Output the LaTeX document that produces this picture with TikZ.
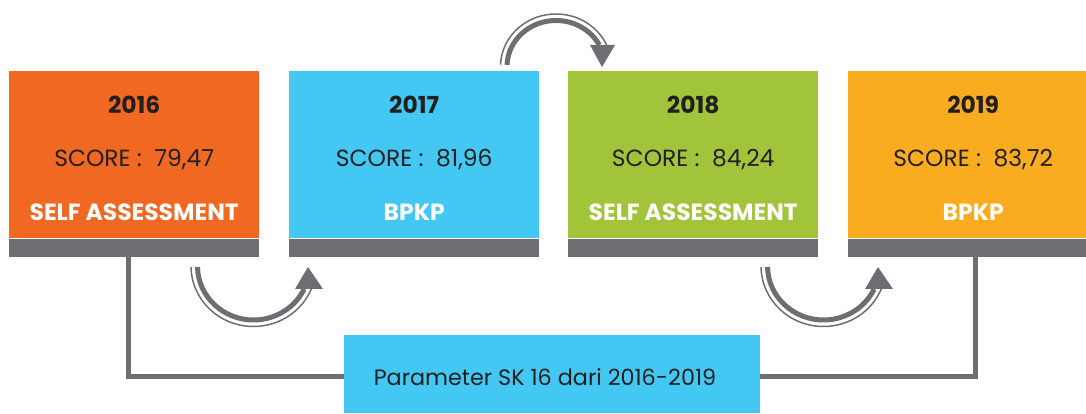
\documentclass[tikz,border=0pt]{standalone}
\usepackage{fontspec}
\setmainfont{Poppins}
\definecolor{corange}{HTML}{F16822}
\definecolor{cblue}{HTML}{43C8F4}
\definecolor{cgreen}{HTML}{A1C43A}
\definecolor{cyellow}{HTML}{F9AC20}
\definecolor{cgray}{HTML}{6D6E71}
\definecolor{cdark}{HTML}{231F20}
\tikzset{
  yearbox/.style={inner sep=0pt, minimum width=250pt, minimum height=167pt, anchor=north west},
  bandbox/.style={fill=cgray, inner sep=0pt, minimum width=250pt, minimum height=18pt, anchor=north west},
  yeartxt/.style={font=\bfseries\fontsize{23.4}{28}\selectfont, text=cdark, anchor=base, inner sep=0pt},
  scoretxt/.style={font=\fontsize{23.4}{28}\selectfont, text=cdark, anchor=base, inner sep=0pt},
  paramtxt/.style={font=\fontsize{22.3}{27}\selectfont, text=cdark, anchor=base, inner sep=0pt},
  labeltxt/.style={font=\bfseries\fontsize{23.4}{28}\selectfont, text=white, anchor=base, inner sep=0pt},
  conn/.style={draw=cgray, line width=5pt},
  arcthick/.style={draw=cgray, line width=5pt},
  arcthin/.style={draw=cgray, line width=1.5pt},
  tipfill/.style={fill=cgray},
}
\begin{document}
\begin{tikzpicture}[x=1pt,y=1pt]
\useasboundingbox (0,0) rectangle (1086,414);
\clip (0,0) rectangle (1086,414);
% boxes
\node[yearbox, fill=corange] (b1) at (9,343) {};
\node[yearbox, fill=cblue]   (b2) at (289,343) {};
\node[yearbox, fill=cgreen]  (b3) at (568,343) {};
\node[yearbox, fill=cyellow] (b4) at (848,343) {};
\node[bandbox] (d1) at (b1.south west) {};
\node[bandbox] (d2) at (b2.south west) {};
\node[bandbox] (d3) at (b3.south west) {};
\node[bandbox] (d4) at (b4.south west) {};
% texts
\node[yeartxt] (y1) at ([yshift=-43pt]b1.north) {2016};
\node[scoretxt] (s1) at ([yshift=-96pt]b1.north) {SCORE :~~79,47};
\node[labeltxt] (l1) at ([yshift=-150pt]b1.north) {SELF ASSESSMENT};
\node[yeartxt] (y2) at ([yshift=-43pt]b2.north) {2017};
\node[scoretxt] (s2) at ([yshift=-96pt]b2.north) {SCORE :~~81,96};
\node[labeltxt] (l2) at ([yshift=-150pt]b2.north) {BPKP};
\node[yeartxt] (y3) at ([yshift=-43pt]b3.north) {2018};
\node[scoretxt] (s3) at ([yshift=-96pt]b3.north) {SCORE :~~84,24};
\node[labeltxt] (l3) at ([yshift=-150pt]b3.north) {SELF ASSESSMENT};
\node[yeartxt] (y4) at ([yshift=-43pt]b4.north) {2019};
\node[scoretxt] (s4) at ([yshift=-96pt]b4.north) {SCORE :~~83,72};
\node[labeltxt] (l4) at ([yshift=-150pt]b4.north) {BPKP};
% bottom parameter box
\node[fill=cblue, inner sep=0pt, minimum width=416pt, minimum height=78pt, anchor=south west] (param) at (344,1) {};
\node[paramtxt] (ptext) at (545,28) {Parameter SK 16 dari 2016-2019};
% connectors
\draw[conn] ([xshift=-6pt]d1.south) |- ([yshift=-2.5pt]param.west);
\draw[conn] ([yshift=-2.5pt]param.east) -| ([xshift=2pt]d4.south);
% curved arrows
\draw[arcthick] (253.5,148) ++(181:56pt and 54pt) arc[start angle=181, end angle=334.8, x radius=56pt, y radius=54pt];
\draw[arcthin] (253.5,148) ++(181:62.5pt and 60.5pt) arc[start angle=181, end angle=337.7, x radius=62.5pt, y radius=60.5pt];
\fill[tipfill] (308,147) -- (295,125) -- (323,125) -- cycle;
\draw[arcthick] (823.5,148) ++(181:56pt and 54pt) arc[start angle=181, end angle=334.8, x radius=56pt, y radius=54pt];
\draw[arcthin] (823.5,148) ++(181:62.5pt and 60.5pt) arc[start angle=181, end angle=337.7, x radius=62.5pt, y radius=60.5pt];
\fill[tipfill] (878,147) -- (865,125) -- (893,125) -- cycle;
\draw[arcthick] (556,347.5) ++(178:49pt and 46pt) arc[start angle=178, end angle=27.9, x radius=49pt, y radius=46pt];
\draw[arcthin] (556,347.5) ++(178:55.5pt and 52.5pt) arc[start angle=178, end angle=24.2, x radius=55.5pt, y radius=52.5pt];
\fill[tipfill] (602,347) -- (590,369) -- (615,369) -- cycle;
\end{tikzpicture}
\end{document}
